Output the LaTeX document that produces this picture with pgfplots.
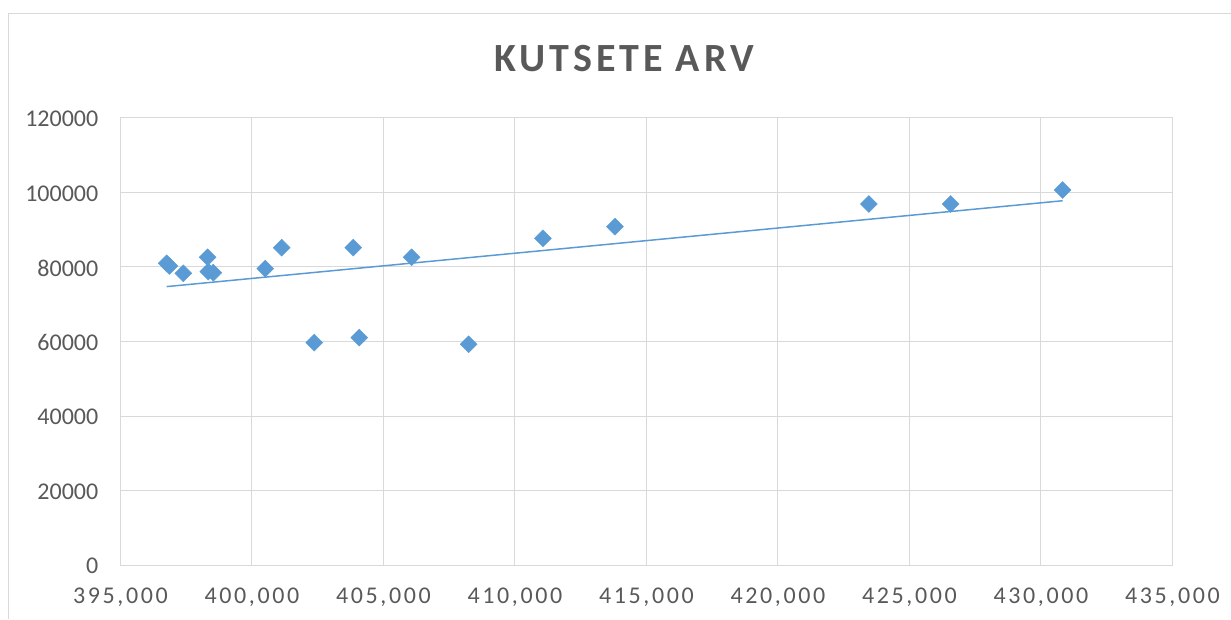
\documentclass[border=0pt]{standalone}
\usepackage{fontspec}
\setmainfont{Carlito}
\newfontfamily\xtickfont[LetterSpace=11]{Carlito}
\newfontfamily\titlefont[LetterSpace=10]{Carlito}
\usepackage{pgfplots}
\usepackage{pgfplotstable}
\pgfplotsset{compat=1.18}
\definecolor{gridc}{HTML}{D9D9D9}
\definecolor{txt}{HTML}{595959}
\definecolor{ser}{HTML}{5B9BD5}

\pgfplotstableread{
x y
396757 80995
396855 80270
397388 78310
398315 82605
398338 78740
398528 78470
400505 79545
401129 85182
402368 59679
403851 85182
404079 61021
406071 82605
408239 59250
411063 87706
413801 90822
423458 96914
426564 96914
430822 100673
}\datatable

\begin{document}
\begin{tikzpicture}
\path[use as bounding box] (0,0) rectangle (1231pt,619pt);
\draw[gridc, line width=1pt] (8pt,0) -- (8pt,605.5pt) -- (1231pt,605.5pt);
\begin{axis}[
  at={(120.5pt,54pt)}, anchor=south west,
  scale only axis, width=1052pt, height=447pt,
  xmin=395000, xmax=435000, ymin=0, ymax=120000,
  xtick distance=5000, ytick distance=20000,
  grid=major, major grid style={gridc, line width=1pt},
  axis line style={gridc, line width=1pt},
  tick style={draw=none},
  scaled ticks=false,
  /pgf/number format/assume math mode=true,
  xticklabel={\pgfmathprintnumber[fixed, precision=0, 1000 sep={,}, assume math mode=true]{\tick}},
  yticklabel={\pgfmathprintnumber[fixed, precision=0, 1000 sep={}, assume math mode=true]{\tick}},
  xticklabel style={font=\xtickfont\fontsize{24}{28}\selectfont, text=txt, anchor=north, inner sep=0pt, yshift=-23pt},
  yticklabel style={font=\fontsize{24}{28}\selectfont, text=txt, anchor=east, inner sep=0pt, xshift=-22pt, yshift=-1pt},
  clip=false,
]
\addplot[only marks, mark=square*, mark size=6pt, mark options={rotate=45, fill=ser, draw=ser}] table[x=x, y=y] {\datatable};
\addplot[ser, line width=1.5pt, no marks] table[x=x, y={create col/linear regression={y=y}}] {\datatable};
\end{axis}
\node[anchor=base, text=txt, font=\titlefont\bfseries\fontsize{40}{44}\selectfont, inner sep=0pt] at (624pt,547pt) {KUTSETE ARV};
\end{tikzpicture}
\end{document}
